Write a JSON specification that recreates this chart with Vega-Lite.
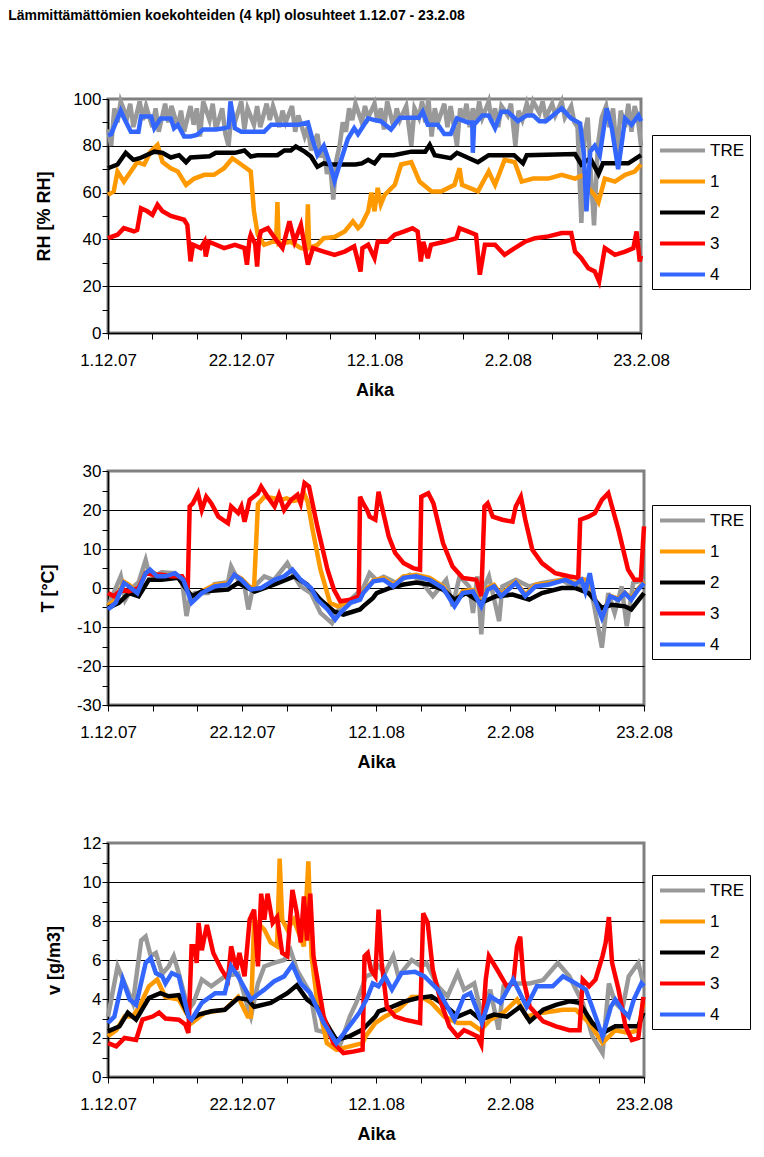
{
  "$schema": "https://vega.github.io/schema/vega-lite/v6.json",
  "padding": {"left": 8, "top": 8, "right": 0, "bottom": 5},
  "title": {"text": "Lämmittämättömien koekohteiden (4 kpl) olosuhteet 1.12.07 - 23.2.08", "anchor": "start", "frame": "bounds", "dx": -26, "offset": 66, "font": "Liberation Sans", "fontSize": 14, "fontWeight": "bold", "color": "#000000"},
  "config": {
    "font": "Liberation Sans",
    "view": {"stroke": "#808080", "strokeWidth": 3},
    "axis": {"domainColor": "#000000", "domainWidth": 1.5, "tickColor": "#000000", "tickSize": 6, "tickWidth": 1, "labelFontSize": 17, "labelColor": "#000000", "labelFont": "Liberation Sans", "titleFont": "Liberation Sans", "titleFontSize": 18, "titleFontWeight": "bold", "titleColor": "#000000", "labelFlush": false, "labelOverlap": false, "gridColor": "#000000", "gridWidth": 1},
    "legend": {"title": null, "orient": "none", "strokeColor": "#000000", "fillColor": "#ffffff", "padding": 6, "symbolType": "M-1,0H5", "symbolStrokeWidth": 4, "symbolSize": 225, "labelFontSize": 17, "labelFont": "Liberation Sans", "labelColor": "#000000", "rowPadding": 13, "labelOffset": 33}
  },
  "spacing": 59,
  "resolve": {"scale": {"color": "independent"}},
  "datasets": {
    "rh": [
      {"s":"TRE","d":0,"v":87},{"s":"TRE","d":0.5,"v":80},{"s":"TRE","d":1,"v":96},{"s":"TRE","d":1.5,"v":90},{"s":"TRE","d":2,"v":99},{"s":"TRE","d":3,"v":92},{"s":"TRE","d":3.5,"v":98},{"s":"TRE","d":4,"v":88},{"s":"TRE","d":5,"v":99},{"s":"TRE","d":5.5,"v":91},{"s":"TRE","d":6,"v":97},{"s":"TRE","d":7,"v":88},{"s":"TRE","d":7.5,"v":96},{"s":"TRE","d":8,"v":86},{"s":"TRE","d":9,"v":98},{"s":"TRE","d":9.5,"v":90},{"s":"TRE","d":10,"v":97},{"s":"TRE","d":11,"v":88},{"s":"TRE","d":11.5,"v":95},{"s":"TRE","d":12,"v":86},{"s":"TRE","d":13,"v":97},{"s":"TRE","d":13.5,"v":89},{"s":"TRE","d":14,"v":96},{"s":"TRE","d":14.5,"v":84},{"s":"TRE","d":15,"v":99},{"s":"TRE","d":16,"v":91},{"s":"TRE","d":16.5,"v":98},{"s":"TRE","d":17,"v":87},{"s":"TRE","d":18,"v":96},{"s":"TRE","d":18.5,"v":85},{"s":"TRE","d":19,"v":80},{"s":"TRE","d":19.5,"v":95},{"s":"TRE","d":20,"v":90},{"s":"TRE","d":21,"v":99},{"s":"TRE","d":21.5,"v":87},{"s":"TRE","d":22,"v":96},{"s":"TRE","d":23,"v":89},{"s":"TRE","d":23.5,"v":97},{"s":"TRE","d":24,"v":88},{"s":"TRE","d":25,"v":98},{"s":"TRE","d":25.5,"v":91},{"s":"TRE","d":26,"v":97},{"s":"TRE","d":27,"v":88},{"s":"TRE","d":27.5,"v":95},{"s":"TRE","d":28,"v":90},{"s":"TRE","d":29,"v":97},{"s":"TRE","d":29.5,"v":86},{"s":"TRE","d":30,"v":93},{"s":"TRE","d":31,"v":84},{"s":"TRE","d":31.5,"v":88},{"s":"TRE","d":32,"v":78},{"s":"TRE","d":33,"v":85},{"s":"TRE","d":33.5,"v":75},{"s":"TRE","d":34,"v":80},{"s":"TRE","d":34.5,"v":68},{"s":"TRE","d":35,"v":72},{"s":"TRE","d":35.5,"v":57},{"s":"TRE","d":36,"v":74},{"s":"TRE","d":36.5,"v":80},{"s":"TRE","d":37,"v":90},{"s":"TRE","d":37.5,"v":86},{"s":"TRE","d":38,"v":96},{"s":"TRE","d":38.5,"v":91},{"s":"TRE","d":39,"v":98},{"s":"TRE","d":40,"v":90},{"s":"TRE","d":40.5,"v":97},{"s":"TRE","d":41,"v":92},{"s":"TRE","d":42,"v":98},{"s":"TRE","d":42.5,"v":90},{"s":"TRE","d":43,"v":96},{"s":"TRE","d":43.5,"v":87},{"s":"TRE","d":44,"v":99},{"s":"TRE","d":45,"v":88},{"s":"TRE","d":45.5,"v":96},{"s":"TRE","d":46,"v":91},{"s":"TRE","d":47,"v":97},{"s":"TRE","d":47.8,"v":80},{"s":"TRE","d":48.3,"v":96},{"s":"TRE","d":49,"v":92},{"s":"TRE","d":49.5,"v":99},{"s":"TRE","d":50,"v":90},{"s":"TRE","d":50.5,"v":100},{"s":"TRE","d":51,"v":84},{"s":"TRE","d":51.5,"v":96},{"s":"TRE","d":52,"v":90},{"s":"TRE","d":53,"v":98},{"s":"TRE","d":53.5,"v":88},{"s":"TRE","d":54,"v":97},{"s":"TRE","d":55,"v":80},{"s":"TRE","d":55.5,"v":96},{"s":"TRE","d":56,"v":91},{"s":"TRE","d":56.5,"v":98},{"s":"TRE","d":57,"v":88},{"s":"TRE","d":57.5,"v":96},{"s":"TRE","d":58,"v":90},{"s":"TRE","d":58.5,"v":99},{"s":"TRE","d":59,"v":92},{"s":"TRE","d":60,"v":99},{"s":"TRE","d":60.5,"v":90},{"s":"TRE","d":61,"v":96},{"s":"TRE","d":61.5,"v":88},{"s":"TRE","d":62,"v":97},{"s":"TRE","d":63,"v":93},{"s":"TRE","d":63.5,"v":98},{"s":"TRE","d":64.2,"v":80},{"s":"TRE","d":64.7,"v":95},{"s":"TRE","d":65.3,"v":91},{"s":"TRE","d":66,"v":98},{"s":"TRE","d":66.5,"v":93},{"s":"TRE","d":67,"v":99},{"s":"TRE","d":68,"v":94},{"s":"TRE","d":68.5,"v":99},{"s":"TRE","d":69,"v":92},{"s":"TRE","d":70,"v":98},{"s":"TRE","d":70.5,"v":93},{"s":"TRE","d":71.5,"v":99},{"s":"TRE","d":72,"v":92},{"s":"TRE","d":73,"v":97},{"s":"TRE","d":73.5,"v":90},{"s":"TRE","d":74,"v":88},{"s":"TRE","d":74.6,"v":47},{"s":"TRE","d":75.1,"v":85},{"s":"TRE","d":75.6,"v":92},{"s":"TRE","d":76,"v":72},{"s":"TRE","d":76.6,"v":46},{"s":"TRE","d":77.2,"v":80},{"s":"TRE","d":77.8,"v":92},{"s":"TRE","d":78.5,"v":97},{"s":"TRE","d":79,"v":88},{"s":"TRE","d":79.6,"v":96},{"s":"TRE","d":80.2,"v":76},{"s":"TRE","d":80.8,"v":95},{"s":"TRE","d":81.5,"v":88},{"s":"TRE","d":82,"v":98},{"s":"TRE","d":82.5,"v":86},{"s":"TRE","d":83,"v":97},{"s":"TRE","d":83.5,"v":92},{"s":"TRE","d":84,"v":80},
      {"s":"1","d":0,"v":59},{"s":"1","d":0.9,"v":60.5},{"s":"1","d":1.5,"v":69},{"s":"1","d":2.5,"v":64.7},{"s":"1","d":3.6,"v":69},{"s":"1","d":4.6,"v":73},{"s":"1","d":5.7,"v":72},{"s":"1","d":6.7,"v":77.5},{"s":"1","d":7.8,"v":80.4},{"s":"1","d":8.6,"v":73},{"s":"1","d":9.9,"v":70.4},{"s":"1","d":11,"v":69},{"s":"1","d":12.3,"v":63.3},{"s":"1","d":13.6,"v":66},{"s":"1","d":15.2,"v":67.6},{"s":"1","d":16.7,"v":67.6},{"s":"1","d":18.3,"v":70.4},{"s":"1","d":19.6,"v":74.7},{"s":"1","d":21,"v":72},{"s":"1","d":22.5,"v":69},{"s":"1","d":23,"v":52},{"s":"1","d":23.6,"v":42},{"s":"1","d":24.6,"v":37.7},{"s":"1","d":26,"v":39},{"s":"1","d":26.5,"v":39},{"s":"1","d":26.7,"v":56},{"s":"1","d":26.9,"v":38},{"s":"1","d":28.8,"v":39},{"s":"1","d":30.4,"v":36.3},{"s":"1","d":31.3,"v":36},{"s":"1","d":31.5,"v":55},{"s":"1","d":31.7,"v":36.3},{"s":"1","d":33,"v":37.7},{"s":"1","d":34,"v":40.5},{"s":"1","d":35.7,"v":41},{"s":"1","d":37.3,"v":43.4},{"s":"1","d":38.6,"v":47.7},{"s":"1","d":39.4,"v":44.8},{"s":"1","d":39.9,"v":46},{"s":"1","d":41,"v":52},{"s":"1","d":41.5,"v":60},{"s":"1","d":42,"v":52},{"s":"1","d":42.5,"v":62},{"s":"1","d":43,"v":55},{"s":"1","d":43.6,"v":59},{"s":"1","d":45.2,"v":63.3},{"s":"1","d":46.2,"v":72},{"s":"1","d":47.8,"v":73},{"s":"1","d":49.1,"v":64.7},{"s":"1","d":51,"v":60.5},{"s":"1","d":52.5,"v":60.5},{"s":"1","d":54.6,"v":63.3},{"s":"1","d":55.4,"v":70.4},{"s":"1","d":55.8,"v":63.3},{"s":"1","d":58.3,"v":60.5},{"s":"1","d":60,"v":69},{"s":"1","d":61,"v":63.3},{"s":"1","d":62.5,"v":74},{"s":"1","d":64.1,"v":73},{"s":"1","d":65.2,"v":64.7},{"s":"1","d":67,"v":66},{"s":"1","d":69.4,"v":66},{"s":"1","d":71.5,"v":67.6},{"s":"1","d":73.6,"v":66},{"s":"1","d":75,"v":67.6},{"s":"1","d":75.7,"v":62},{"s":"1","d":76.7,"v":59},{"s":"1","d":77.3,"v":56},{"s":"1","d":78.3,"v":66},{"s":"1","d":79.9,"v":64.7},{"s":"1","d":81.5,"v":67.6},{"s":"1","d":83,"v":69},{"s":"1","d":84,"v":72},
      {"s":"2","d":0,"v":70.4},{"s":"2","d":1.5,"v":72},{"s":"2","d":2.8,"v":77},{"s":"2","d":4,"v":74},{"s":"2","d":5,"v":74.7},{"s":"2","d":7.3,"v":77.5},{"s":"2","d":8.6,"v":77},{"s":"2","d":9.9,"v":75},{"s":"2","d":11.2,"v":76},{"s":"2","d":12.3,"v":73},{"s":"2","d":13,"v":75},{"s":"2","d":16,"v":75.5},{"s":"2","d":17,"v":77},{"s":"2","d":20,"v":77},{"s":"2","d":21.5,"v":78},{"s":"2","d":22.5,"v":75.4},{"s":"2","d":23.6,"v":76},{"s":"2","d":26.7,"v":76},{"s":"2","d":27.8,"v":78},{"s":"2","d":28.8,"v":78},{"s":"2","d":29.6,"v":79.7},{"s":"2","d":31,"v":77.5},{"s":"2","d":32,"v":75.4},{"s":"2","d":33,"v":71},{"s":"2","d":34,"v":72.5},{"s":"2","d":35,"v":72},{"s":"2","d":39,"v":72},{"s":"2","d":40,"v":72.5},{"s":"2","d":41,"v":74},{"s":"2","d":42,"v":72.5},{"s":"2","d":43,"v":76},{"s":"2","d":45,"v":76},{"s":"2","d":47.8,"v":77.5},{"s":"2","d":50,"v":77.5},{"s":"2","d":50.7,"v":80.4},{"s":"2","d":51.5,"v":76},{"s":"2","d":54,"v":74.7},{"s":"2","d":55,"v":77},{"s":"2","d":58.3,"v":73},{"s":"2","d":60,"v":76},{"s":"2","d":64,"v":76},{"s":"2","d":65.4,"v":72.5},{"s":"2","d":66,"v":76},{"s":"2","d":73.6,"v":76.5},{"s":"2","d":74.6,"v":72},{"s":"2","d":76,"v":74.7},{"s":"2","d":77.3,"v":68},{"s":"2","d":78,"v":72.5},{"s":"2","d":82,"v":72.5},{"s":"2","d":84,"v":76},
      {"s":"3","d":0,"v":40.5},{"s":"3","d":1.5,"v":42},{"s":"3","d":2.5,"v":44.8},{"s":"3","d":4.1,"v":43.4},{"s":"3","d":4.6,"v":44},{"s":"3","d":5.2,"v":53.3},{"s":"3","d":6.2,"v":52},{"s":"3","d":7,"v":50.5},{"s":"3","d":7.8,"v":54.8},{"s":"3","d":8.6,"v":52},{"s":"3","d":9.9,"v":50},{"s":"3","d":12,"v":48.4},{"s":"3","d":12.5,"v":46.2},{"s":"3","d":13,"v":30.6},{"s":"3","d":13.4,"v":37.7},{"s":"3","d":14.6,"v":36.3},{"s":"3","d":15.2,"v":39},{"s":"3","d":15.4,"v":32.7},{"s":"3","d":15.9,"v":39},{"s":"3","d":18.3,"v":36.3},{"s":"3","d":20,"v":37.7},{"s":"3","d":21.5,"v":36.3},{"s":"3","d":21.9,"v":29.2},{"s":"3","d":22.3,"v":40},{"s":"3","d":22.5,"v":42},{"s":"3","d":23.2,"v":38},{"s":"3","d":23.5,"v":28.4},{"s":"3","d":23.8,"v":40},{"s":"3","d":24.1,"v":43.4},{"s":"3","d":25.2,"v":44.8},{"s":"3","d":26.7,"v":39},{"s":"3","d":27.5,"v":36.3},{"s":"3","d":28.6,"v":47.7},{"s":"3","d":29.4,"v":39},{"s":"3","d":30.4,"v":46.2},{"s":"3","d":31.5,"v":29.2},{"s":"3","d":32.3,"v":36.3},{"s":"3","d":34,"v":34.8},{"s":"3","d":35.7,"v":33.4},{"s":"3","d":37.3,"v":34.8},{"s":"3","d":38.8,"v":37},{"s":"3","d":39.8,"v":26.3},{"s":"3","d":40.1,"v":36.3},{"s":"3","d":41,"v":37.7},{"s":"3","d":42,"v":32},{"s":"3","d":42.5,"v":39},{"s":"3","d":44,"v":39},{"s":"3","d":45.2,"v":42},{"s":"3","d":46.7,"v":43.4},{"s":"3","d":48,"v":44.8},{"s":"3","d":48.8,"v":43.4},{"s":"3","d":49.3,"v":30.6},{"s":"3","d":49.7,"v":39},{"s":"3","d":50.4,"v":32},{"s":"3","d":50.9,"v":37.7},{"s":"3","d":53,"v":39},{"s":"3","d":54.9,"v":40.5},{"s":"3","d":55.4,"v":44.8},{"s":"3","d":56.7,"v":43.4},{"s":"3","d":58,"v":42},{"s":"3","d":58.6,"v":24.9},{"s":"3","d":59.4,"v":37.7},{"s":"3","d":61,"v":37.7},{"s":"3","d":62.5,"v":33.4},{"s":"3","d":64.1,"v":36.3},{"s":"3","d":65.7,"v":39},{"s":"3","d":67.3,"v":40.5},{"s":"3","d":69.4,"v":41.3},{"s":"3","d":71.5,"v":42.7},{"s":"3","d":73,"v":42.7},{"s":"3","d":73.6,"v":34.8},{"s":"3","d":74.6,"v":32},{"s":"3","d":75.7,"v":27.7},{"s":"3","d":76.7,"v":26.3},{"s":"3","d":77.4,"v":22},{"s":"3","d":78.3,"v":36.3},{"s":"3","d":79.9,"v":33.4},{"s":"3","d":81.5,"v":34.8},{"s":"3","d":82.8,"v":36.3},{"s":"3","d":83.3,"v":43.4},{"s":"3","d":83.8,"v":30.6},{"s":"3","d":84,"v":33},
      {"s":"4","d":0,"v":84.6},{"s":"4","d":0.5,"v":85},{"s":"4","d":2,"v":95},{"s":"4","d":2.5,"v":92},{"s":"4","d":3.6,"v":86},{"s":"4","d":4.8,"v":86},{"s":"4","d":5.2,"v":92.5},{"s":"4","d":6.8,"v":92.5},{"s":"4","d":7.3,"v":87.5},{"s":"4","d":8.3,"v":91.7},{"s":"4","d":9.9,"v":91.7},{"s":"4","d":10.4,"v":87.5},{"s":"4","d":11,"v":89},{"s":"4","d":12,"v":84},{"s":"4","d":13,"v":84},{"s":"4","d":14,"v":84.6},{"s":"4","d":15,"v":87},{"s":"4","d":17,"v":87},{"s":"4","d":18.3,"v":87.5},{"s":"4","d":19,"v":88},{"s":"4","d":19.3,"v":99},{"s":"4","d":20,"v":87.5},{"s":"4","d":21,"v":86},{"s":"4","d":24.6,"v":86},{"s":"4","d":25.7,"v":89},{"s":"4","d":28.8,"v":89},{"s":"4","d":30,"v":89},{"s":"4","d":31.5,"v":90},{"s":"4","d":32.3,"v":82},{"s":"4","d":33,"v":76},{"s":"4","d":34,"v":80},{"s":"4","d":35,"v":72},{"s":"4","d":35.7,"v":65},{"s":"4","d":36.5,"v":72},{"s":"4","d":37.8,"v":83},{"s":"4","d":38.8,"v":87.5},{"s":"4","d":39.4,"v":85},{"s":"4","d":41,"v":91.7},{"s":"4","d":42,"v":91},{"s":"4","d":43,"v":90.5},{"s":"4","d":44.6,"v":87},{"s":"4","d":46,"v":92},{"s":"4","d":49,"v":92},{"s":"4","d":49.6,"v":94.6},{"s":"4","d":50.4,"v":89},{"s":"4","d":52,"v":89},{"s":"4","d":53,"v":85},{"s":"4","d":54,"v":85},{"s":"4","d":55,"v":91.7},{"s":"4","d":56.7,"v":90},{"s":"4","d":57.4,"v":90},{"s":"4","d":57.5,"v":77},{"s":"4","d":57.7,"v":89},{"s":"4","d":59,"v":93},{"s":"4","d":60,"v":93},{"s":"4","d":61,"v":87.5},{"s":"4","d":62,"v":94.6},{"s":"4","d":63,"v":94.6},{"s":"4","d":64.6,"v":90.5},{"s":"4","d":66,"v":93},{"s":"4","d":67,"v":93},{"s":"4","d":68,"v":90.5},{"s":"4","d":69,"v":90.5},{"s":"4","d":71.5,"v":96},{"s":"4","d":73,"v":91.7},{"s":"4","d":74.4,"v":89.6},{"s":"4","d":75,"v":76},{"s":"4","d":75.4,"v":52},{"s":"4","d":76,"v":77.5},{"s":"4","d":76.7,"v":80},{"s":"4","d":77.5,"v":76},{"s":"4","d":78.6,"v":96},{"s":"4","d":79.4,"v":87.5},{"s":"4","d":80.4,"v":70},{"s":"4","d":81.5,"v":91.7},{"s":"4","d":82.5,"v":89},{"s":"4","d":83.6,"v":93},{"s":"4","d":84,"v":90.5}
    ],
    "t": [
      {"s":"TRE","d":0,"v":-4.7},{"s":"TRE","d":2,"v":3},{"s":"TRE","d":2.7,"v":-3},{"s":"TRE","d":3.8,"v":0},{"s":"TRE","d":4.8,"v":1.5},{"s":"TRE","d":5.9,"v":7.2},{"s":"TRE","d":6.4,"v":4},{"s":"TRE","d":7.2,"v":3},{"s":"TRE","d":8.4,"v":4},{"s":"TRE","d":10.5,"v":3.8},{"s":"TRE","d":11.6,"v":2},{"s":"TRE","d":12.3,"v":-7.2},{"s":"TRE","d":12.9,"v":-2},{"s":"TRE","d":13.6,"v":-1.3},{"s":"TRE","d":15.7,"v":-1.3},{"s":"TRE","d":16.7,"v":1},{"s":"TRE","d":18.8,"v":1.5},{"s":"TRE","d":19.3,"v":5.5},{"s":"TRE","d":20.4,"v":2},{"s":"TRE","d":21.4,"v":0.4},{"s":"TRE","d":22,"v":-5.5},{"s":"TRE","d":22.7,"v":0},{"s":"TRE","d":24.5,"v":3},{"s":"TRE","d":26,"v":2},{"s":"TRE","d":28.1,"v":6.4},{"s":"TRE","d":29.2,"v":3},{"s":"TRE","d":30.2,"v":0.4},{"s":"TRE","d":31.8,"v":-1.3},{"s":"TRE","d":33.3,"v":-6.4},{"s":"TRE","d":35.1,"v":-9},{"s":"TRE","d":36.4,"v":-4.7},{"s":"TRE","d":38,"v":-3},{"s":"TRE","d":40,"v":0},{"s":"TRE","d":41,"v":3.8},{"s":"TRE","d":42.1,"v":2},{"s":"TRE","d":43.2,"v":2.9},{"s":"TRE","d":45.2,"v":1.3},{"s":"TRE","d":47.3,"v":3.4},{"s":"TRE","d":48.9,"v":2.1},{"s":"TRE","d":50.9,"v":-2.1},{"s":"TRE","d":53,"v":2.1},{"s":"TRE","d":54,"v":-4.7},{"s":"TRE","d":55.1,"v":3},{"s":"TRE","d":56.6,"v":0.4},{"s":"TRE","d":57.2,"v":-6.4},{"s":"TRE","d":57.9,"v":3},{"s":"TRE","d":58.5,"v":-11.9},{"s":"TRE","d":59,"v":0.4},{"s":"TRE","d":59.7,"v":3},{"s":"TRE","d":61.3,"v":-8.5},{"s":"TRE","d":61.8,"v":0.4},{"s":"TRE","d":63.9,"v":2.1},{"s":"TRE","d":66,"v":0.4},{"s":"TRE","d":68,"v":1.3},{"s":"TRE","d":71.1,"v":2.1},{"s":"TRE","d":73.2,"v":0},{"s":"TRE","d":75.3,"v":1.3},{"s":"TRE","d":76.1,"v":-3.8},{"s":"TRE","d":77.4,"v":-15.3},{"s":"TRE","d":78.4,"v":-1.3},{"s":"TRE","d":79.4,"v":-6.4},{"s":"TRE","d":80.5,"v":0.4},{"s":"TRE","d":81.3,"v":-9.8},{"s":"TRE","d":82.3,"v":1.3},{"s":"TRE","d":84,"v":2.1},
      {"s":"1","d":0,"v":-4.5},{"s":"1","d":1.2,"v":-3},{"s":"1","d":2.5,"v":1.6},{"s":"1","d":3.3,"v":0.8},{"s":"1","d":4.6,"v":-1},{"s":"1","d":5.9,"v":4},{"s":"1","d":6.6,"v":4.5},{"s":"1","d":7.7,"v":3.3},{"s":"1","d":9,"v":3.3},{"s":"1","d":10.5,"v":3.5},{"s":"1","d":11.8,"v":2.4},{"s":"1","d":13.1,"v":-3},{"s":"1","d":14.7,"v":-0.8},{"s":"1","d":16.7,"v":0.8},{"s":"1","d":18.8,"v":1.2},{"s":"1","d":19.8,"v":3.4},{"s":"1","d":20.9,"v":2.4},{"s":"1","d":22.4,"v":0},{"s":"1","d":22.9,"v":0.5},{"s":"1","d":23.5,"v":21.5},{"s":"1","d":24.5,"v":23.4},{"s":"1","d":26,"v":23},{"s":"1","d":27,"v":22.6},{"s":"1","d":28,"v":23},{"s":"1","d":29,"v":22.3},{"s":"1","d":30,"v":22.6},{"s":"1","d":30.8,"v":24},{"s":"1","d":31.3,"v":22},{"s":"1","d":32,"v":15.5},{"s":"1","d":33.3,"v":4.7},{"s":"1","d":34.8,"v":-3.8},{"s":"1","d":36,"v":-4.7},{"s":"1","d":37.5,"v":-3.6},{"s":"1","d":39.5,"v":-2.6},{"s":"1","d":40,"v":-1},{"s":"1","d":41.6,"v":2},{"s":"1","d":43.2,"v":2.5},{"s":"1","d":44.7,"v":0.8},{"s":"1","d":46.3,"v":3},{"s":"1","d":48.3,"v":3.4},{"s":"1","d":50.4,"v":2.6},{"s":"1","d":52.5,"v":0.4},{"s":"1","d":54.3,"v":-4},{"s":"1","d":55.6,"v":-0.8},{"s":"1","d":57.2,"v":-0.5},{"s":"1","d":58.5,"v":-4.2},{"s":"1","d":59.5,"v":0},{"s":"1","d":60.5,"v":0.8},{"s":"1","d":61.6,"v":-1.7},{"s":"1","d":63.9,"v":1.6},{"s":"1","d":65.4,"v":-1.7},{"s":"1","d":67,"v":0.8},{"s":"1","d":69.1,"v":1.2},{"s":"1","d":71.7,"v":2.4},{"s":"1","d":73.2,"v":1.2},{"s":"1","d":74.2,"v":2.3},{"s":"1","d":75.5,"v":2},{"s":"1","d":76.3,"v":-2.7},{"s":"1","d":77.4,"v":-7.2},{"s":"1","d":78.7,"v":-2},{"s":"1","d":80,"v":-2.8},{"s":"1","d":81,"v":-1.2},{"s":"1","d":82,"v":-2.6},{"s":"1","d":83.1,"v":-0.2},{"s":"1","d":84,"v":1.6},
      {"s":"2","d":0,"v":-5.1},{"s":"2","d":1.7,"v":-3.8},{"s":"2","d":3.3,"v":-1.3},{"s":"2","d":4.8,"v":-2.1},{"s":"2","d":6.4,"v":2.1},{"s":"2","d":8.4,"v":2.1},{"s":"2","d":11,"v":2.6},{"s":"2","d":13.1,"v":-2.1},{"s":"2","d":14.7,"v":-0.9},{"s":"2","d":18.8,"v":-0.4},{"s":"2","d":20.4,"v":1.3},{"s":"2","d":23,"v":-0.9},{"s":"2","d":26.1,"v":0.9},{"s":"2","d":29.2,"v":3},{"s":"2","d":31.2,"v":0.9},{"s":"2","d":33.3,"v":-3},{"s":"2","d":35.4,"v":-6},{"s":"2","d":36.9,"v":-6.8},{"s":"2","d":39.5,"v":-5.5},{"s":"2","d":40,"v":-4.7},{"s":"2","d":41.5,"v":-2.6},{"s":"2","d":42.1,"v":-1.3},{"s":"2","d":44.2,"v":0},{"s":"2","d":46.3,"v":0.9},{"s":"2","d":48.3,"v":1.4},{"s":"2","d":50.4,"v":0.9},{"s":"2","d":52.5,"v":-0.4},{"s":"2","d":54.3,"v":-3},{"s":"2","d":56.1,"v":-1.3},{"s":"2","d":58.5,"v":-3.8},{"s":"2","d":60.8,"v":-2.1},{"s":"2","d":63.4,"v":-1.7},{"s":"2","d":66,"v":-3},{"s":"2","d":68,"v":-1.3},{"s":"2","d":71.1,"v":0},{"s":"2","d":73.2,"v":0},{"s":"2","d":75.3,"v":-1.3},{"s":"2","d":77.4,"v":-5.1},{"s":"2","d":78.9,"v":-4.3},{"s":"2","d":81,"v":-4.7},{"s":"2","d":82,"v":-5.5},{"s":"2","d":84,"v":-1.3},
      {"s":"3","d":0,"v":-1.3},{"s":"3","d":0.9,"v":-2.1},{"s":"3","d":2.2,"v":-0.4},{"s":"3","d":3.3,"v":-0.9},{"s":"3","d":4.8,"v":0},{"s":"3","d":5.9,"v":3.8},{"s":"3","d":7.2,"v":3.4},{"s":"3","d":8.4,"v":3.4},{"s":"3","d":10,"v":3},{"s":"3","d":11.6,"v":3},{"s":"3","d":12.5,"v":0},{"s":"3","d":12.8,"v":20.9},{"s":"3","d":13.3,"v":21.7},{"s":"3","d":14.1,"v":24.3},{"s":"3","d":14.7,"v":20},{"s":"3","d":15.4,"v":23.4},{"s":"3","d":16.2,"v":21.7},{"s":"3","d":17.3,"v":18.3},{"s":"3","d":18.8,"v":16.6},{"s":"3","d":19.3,"v":20.9},{"s":"3","d":20.4,"v":19.2},{"s":"3","d":20.9,"v":20.9},{"s":"3","d":21.4,"v":17},{"s":"3","d":22.2,"v":22.6},{"s":"3","d":23.5,"v":24.3},{"s":"3","d":24,"v":26},{"s":"3","d":25,"v":23.4},{"s":"3","d":26.1,"v":20.9},{"s":"3","d":26.8,"v":23.9},{"s":"3","d":27.6,"v":20},{"s":"3","d":28.7,"v":22.6},{"s":"3","d":29.7,"v":23.9},{"s":"3","d":30.2,"v":21.7},{"s":"3","d":30.8,"v":26.9},{"s":"3","d":31.5,"v":26},{"s":"3","d":32.8,"v":15.8},{"s":"3","d":34.4,"v":4.7},{"s":"3","d":35.4,"v":-0.4},{"s":"3","d":36.4,"v":-3.4},{"s":"3","d":38,"v":-3},{"s":"3","d":39.3,"v":-2.1},{"s":"3","d":39.5,"v":23.4},{"s":"3","d":40,"v":21.7},{"s":"3","d":40.6,"v":20},{"s":"3","d":41,"v":18.3},{"s":"3","d":41.9,"v":17.5},{"s":"3","d":42.4,"v":24.7},{"s":"3","d":42.8,"v":21.7},{"s":"3","d":44,"v":13.2},{"s":"3","d":45,"v":9},{"s":"3","d":46.3,"v":6.4},{"s":"3","d":47.8,"v":5.1},{"s":"3","d":48.9,"v":4.7},{"s":"3","d":49.1,"v":23.4},{"s":"3","d":50.2,"v":24.3},{"s":"3","d":51,"v":21.7},{"s":"3","d":52.5,"v":11.5},{"s":"3","d":54,"v":5.5},{"s":"3","d":55.6,"v":2.6},{"s":"3","d":57.7,"v":2.1},{"s":"3","d":58.5,"v":-2.1},{"s":"3","d":59,"v":20.9},{"s":"3","d":59.5,"v":21.7},{"s":"3","d":60.3,"v":18.3},{"s":"3","d":61.8,"v":17.5},{"s":"3","d":63.4,"v":17},{"s":"3","d":63.9,"v":20.9},{"s":"3","d":64.7,"v":23.4},{"s":"3","d":65.4,"v":17.5},{"s":"3","d":66.5,"v":9.8},{"s":"3","d":68,"v":6.4},{"s":"3","d":70.1,"v":3.8},{"s":"3","d":72.2,"v":3},{"s":"3","d":73.7,"v":2.6},{"s":"3","d":74,"v":17.5},{"s":"3","d":75.3,"v":18.3},{"s":"3","d":76.3,"v":19.2},{"s":"3","d":77.4,"v":22.6},{"s":"3","d":78.4,"v":24.3},{"s":"3","d":80,"v":14.9},{"s":"3","d":81.5,"v":4.7},{"s":"3","d":82.5,"v":2.1},{"s":"3","d":83.5,"v":2.1},{"s":"3","d":84,"v":15.8},
      {"s":"4","d":0,"v":-5.5},{"s":"4","d":1.2,"v":-3.8},{"s":"4","d":2.5,"v":1.3},{"s":"4","d":3.3,"v":0.4},{"s":"4","d":4.6,"v":-1.3},{"s":"4","d":5.9,"v":3.8},{"s":"4","d":6.6,"v":4.7},{"s":"4","d":7.7,"v":3},{"s":"4","d":9,"v":3},{"s":"4","d":10.5,"v":3.8},{"s":"4","d":11.8,"v":2.1},{"s":"4","d":13.1,"v":-3.8},{"s":"4","d":14.7,"v":-1.3},{"s":"4","d":16.7,"v":0.4},{"s":"4","d":18.8,"v":0.9},{"s":"4","d":19.8,"v":3.4},{"s":"4","d":20.9,"v":2.1},{"s":"4","d":22.4,"v":-0.4},{"s":"4","d":24,"v":0},{"s":"4","d":26.1,"v":2.1},{"s":"4","d":27.6,"v":3},{"s":"4","d":28.9,"v":4.7},{"s":"4","d":30.2,"v":2.1},{"s":"4","d":31.8,"v":0},{"s":"4","d":32.8,"v":-3},{"s":"4","d":34.4,"v":-5.5},{"s":"4","d":35.6,"v":-8.1},{"s":"4","d":36.4,"v":-6.4},{"s":"4","d":38,"v":-3.8},{"s":"4","d":39.5,"v":-3},{"s":"4","d":40,"v":-1.3},{"s":"4","d":41.6,"v":1.7},{"s":"4","d":43.2,"v":2.1},{"s":"4","d":44.7,"v":0.4},{"s":"4","d":46.3,"v":2.6},{"s":"4","d":48.3,"v":3},{"s":"4","d":50.4,"v":2.1},{"s":"4","d":52.5,"v":0},{"s":"4","d":54.3,"v":-4.7},{"s":"4","d":55.6,"v":-1.3},{"s":"4","d":57.2,"v":-0.9},{"s":"4","d":58.5,"v":-4.7},{"s":"4","d":59.5,"v":-0.4},{"s":"4","d":60.5,"v":0.4},{"s":"4","d":61.6,"v":-2.1},{"s":"4","d":63.9,"v":1.3},{"s":"4","d":65.4,"v":-2.1},{"s":"4","d":67,"v":0.4},{"s":"4","d":69.1,"v":0.9},{"s":"4","d":71.7,"v":2.1},{"s":"4","d":73.2,"v":0.9},{"s":"4","d":74.2,"v":2.1},{"s":"4","d":74.8,"v":-0.9},{"s":"4","d":75.5,"v":3.8},{"s":"4","d":76.3,"v":-3},{"s":"4","d":77.4,"v":-7.7},{"s":"4","d":78.7,"v":-2.1},{"s":"4","d":80,"v":-3},{"s":"4","d":81,"v":-1.3},{"s":"4","d":82,"v":-3},{"s":"4","d":83.1,"v":-0.4},{"s":"4","d":84,"v":1.3}
    ],
    "vd": [
      {"s":"TRE","d":0,"v":3.1},{"s":"TRE","d":1.5,"v":5.67},{"s":"TRE","d":2.6,"v":4.8},{"s":"TRE","d":3.9,"v":3.8},{"s":"TRE","d":5.2,"v":7},{"s":"TRE","d":5.9,"v":7.2},{"s":"TRE","d":6.7,"v":6.2},{"s":"TRE","d":7.5,"v":6.36},{"s":"TRE","d":8.5,"v":5.3},{"s":"TRE","d":9.5,"v":5.67},{"s":"TRE","d":10.3,"v":6.2},{"s":"TRE","d":11.1,"v":5.3},{"s":"TRE","d":12.6,"v":3.45},{"s":"TRE","d":13.4,"v":3.8},{"s":"TRE","d":14.7,"v":5},{"s":"TRE","d":16.2,"v":4.65},{"s":"TRE","d":18.3,"v":5.16},{"s":"TRE","d":20.4,"v":5.3},{"s":"TRE","d":21.9,"v":3.6},{"s":"TRE","d":22.4,"v":3.1},{"s":"TRE","d":23.5,"v":4.8},{"s":"TRE","d":24.5,"v":5.67},{"s":"TRE","d":26,"v":5.85},{"s":"TRE","d":27.6,"v":6},{"s":"TRE","d":28.6,"v":6.5},{"s":"TRE","d":29.6,"v":5.5},{"s":"TRE","d":31.7,"v":4.3},{"s":"TRE","d":32.7,"v":2.4},{"s":"TRE","d":34.3,"v":2.26},{"s":"TRE","d":36.3,"v":1.57},{"s":"TRE","d":37.9,"v":3.1},{"s":"TRE","d":38.9,"v":3.8},{"s":"TRE","d":39.9,"v":4.65},{"s":"TRE","d":40.4,"v":5.16},{"s":"TRE","d":41.5,"v":5.3},{"s":"TRE","d":41.9,"v":5.85},{"s":"TRE","d":43.4,"v":5.33},{"s":"TRE","d":44.7,"v":6.2},{"s":"TRE","d":45.5,"v":5.16},{"s":"TRE","d":47.6,"v":6},{"s":"TRE","d":49.1,"v":5.67},{"s":"TRE","d":49.9,"v":5.85},{"s":"TRE","d":51.7,"v":4.65},{"s":"TRE","d":53.2,"v":4.14},{"s":"TRE","d":54.8,"v":5.33},{"s":"TRE","d":55.8,"v":4.48},{"s":"TRE","d":57.4,"v":4.8},{"s":"TRE","d":58.6,"v":3.1},{"s":"TRE","d":59.9,"v":4.48},{"s":"TRE","d":61.2,"v":2.43},{"s":"TRE","d":62,"v":4.65},{"s":"TRE","d":63.5,"v":4.8},{"s":"TRE","d":66.1,"v":4.8},{"s":"TRE","d":68.2,"v":4.97},{"s":"TRE","d":70.5,"v":5.85},{"s":"TRE","d":72.3,"v":5.16},{"s":"TRE","d":74.4,"v":3.8},{"s":"TRE","d":75.9,"v":2.08},{"s":"TRE","d":77.5,"v":1.23},{"s":"TRE","d":78.5,"v":4.8},{"s":"TRE","d":79.5,"v":3.8},{"s":"TRE","d":80.6,"v":3.45},{"s":"TRE","d":81.6,"v":5.16},{"s":"TRE","d":83.1,"v":5.85},{"s":"TRE","d":83.9,"v":4.8},
      {"s":"1","d":0,"v":2.1},{"s":"1","d":1.3,"v":2.4},{"s":"1","d":2.6,"v":3.1},{"s":"1","d":3.9,"v":3.1},{"s":"1","d":4.9,"v":3.6},{"s":"1","d":6.4,"v":4.65},{"s":"1","d":7.7,"v":5},{"s":"1","d":9,"v":4.1},{"s":"1","d":11.1,"v":3.97},{"s":"1","d":12.6,"v":3.1},{"s":"1","d":13.1,"v":2.77},{"s":"1","d":15.2,"v":3.3},{"s":"1","d":18.3,"v":3.45},{"s":"1","d":20.4,"v":4.1},{"s":"1","d":21.9,"v":3.1},{"s":"1","d":22.4,"v":3.1},{"s":"1","d":22.9,"v":8.07},{"s":"1","d":24.5,"v":7.56},{"s":"1","d":25.5,"v":6.9},{"s":"1","d":26.5,"v":6.7},{"s":"1","d":26.9,"v":11.2},{"s":"1","d":27.3,"v":8.07},{"s":"1","d":28.1,"v":7.56},{"s":"1","d":29.1,"v":8.07},{"s":"1","d":30.7,"v":6.7},{"s":"1","d":31.4,"v":11.06},{"s":"1","d":31.9,"v":6.2},{"s":"1","d":32.7,"v":4.1},{"s":"1","d":34.3,"v":1.74},{"s":"1","d":35.8,"v":1.4},{"s":"1","d":37.9,"v":1.57},{"s":"1","d":39.9,"v":1.74},{"s":"1","d":40.4,"v":2.1},{"s":"1","d":41.9,"v":2.77},{"s":"1","d":43.4,"v":3.1},{"s":"1","d":45.5,"v":3.45},{"s":"1","d":47.6,"v":4.1},{"s":"1","d":49.1,"v":4.1},{"s":"1","d":50.7,"v":3.8},{"s":"1","d":52.7,"v":3.1},{"s":"1","d":54.8,"v":2.77},{"s":"1","d":56.8,"v":2.77},{"s":"1","d":58.4,"v":2.4},{"s":"1","d":59.9,"v":2.94},{"s":"1","d":62,"v":3.3},{"s":"1","d":64.1,"v":3.97},{"s":"1","d":65.6,"v":3.1},{"s":"1","d":68.2,"v":3.3},{"s":"1","d":71.3,"v":3.45},{"s":"1","d":73.3,"v":3.45},{"s":"1","d":75.4,"v":2.77},{"s":"1","d":77.5,"v":1.74},{"s":"1","d":79.5,"v":2.4},{"s":"1","d":81.6,"v":2.26},{"s":"1","d":83.1,"v":2.4},{"s":"1","d":83.9,"v":3.8},
      {"s":"2","d":0,"v":2.34},{"s":"2","d":1.8,"v":2.6},{"s":"2","d":3.1,"v":3.3},{"s":"2","d":4.4,"v":2.94},{"s":"2","d":6.4,"v":4.05},{"s":"2","d":8.2,"v":4.3},{"s":"2","d":9.5,"v":4.14},{"s":"2","d":11.1,"v":4.2},{"s":"2","d":12.9,"v":2.94},{"s":"2","d":14.2,"v":3.2},{"s":"2","d":16.2,"v":3.37},{"s":"2","d":18.3,"v":3.45},{"s":"2","d":20.4,"v":4.05},{"s":"2","d":21.9,"v":3.97},{"s":"2","d":22.9,"v":3.6},{"s":"2","d":25.5,"v":3.8},{"s":"2","d":28.1,"v":4.3},{"s":"2","d":29.6,"v":4.7},{"s":"2","d":31.2,"v":3.97},{"s":"2","d":32.7,"v":3.6},{"s":"2","d":34.8,"v":2.43},{"s":"2","d":35.8,"v":1.9},{"s":"2","d":37.9,"v":2.1},{"s":"2","d":39.9,"v":2.43},{"s":"2","d":40.4,"v":2.6},{"s":"2","d":41.9,"v":3.1},{"s":"2","d":42.4,"v":3.37},{"s":"2","d":44.5,"v":3.6},{"s":"2","d":46.5,"v":3.88},{"s":"2","d":48.6,"v":4.05},{"s":"2","d":50.7,"v":4.14},{"s":"2","d":52.7,"v":3.7},{"s":"2","d":54.8,"v":3.1},{"s":"2","d":56.8,"v":3.37},{"s":"2","d":58.4,"v":2.94},{"s":"2","d":60.5,"v":3.2},{"s":"2","d":62.5,"v":3.1},{"s":"2","d":64.6,"v":3.6},{"s":"2","d":66.1,"v":2.85},{"s":"2","d":68.2,"v":3.45},{"s":"2","d":70.2,"v":3.7},{"s":"2","d":72.3,"v":3.88},{"s":"2","d":73.9,"v":3.8},{"s":"2","d":75.9,"v":2.77},{"s":"2","d":77.5,"v":2.26},{"s":"2","d":79.5,"v":2.6},{"s":"2","d":81.6,"v":2.6},{"s":"2","d":83.1,"v":2.6},{"s":"2","d":83.9,"v":3.3},
      {"s":"3","d":0,"v":1.74},{"s":"3","d":1.3,"v":1.57},{"s":"3","d":2.6,"v":2},{"s":"3","d":4.4,"v":1.9},{"s":"3","d":5.4,"v":2.94},{"s":"3","d":7,"v":3.1},{"s":"3","d":8,"v":3.3},{"s":"3","d":9,"v":3},{"s":"3","d":11.1,"v":2.94},{"s":"3","d":12.1,"v":2.7},{"s":"3","d":12.6,"v":2.26},{"s":"3","d":13.1,"v":6.7},{"s":"3","d":13.6,"v":6.7},{"s":"3","d":13.9,"v":5.85},{"s":"3","d":14.2,"v":7.9},{"s":"3","d":14.7,"v":6.5},{"s":"3","d":15.5,"v":7.8},{"s":"3","d":16.5,"v":6.36},{"s":"3","d":17.8,"v":5.5},{"s":"3","d":18.8,"v":5},{"s":"3","d":19.3,"v":6.7},{"s":"3","d":20.1,"v":5.5},{"s":"3","d":20.6,"v":6.36},{"s":"3","d":21.4,"v":5.16},{"s":"3","d":22.2,"v":8.07},{"s":"3","d":22.9,"v":8.58},{"s":"3","d":23.5,"v":5.67},{"s":"3","d":24,"v":9.4},{"s":"3","d":24.5,"v":8.07},{"s":"3","d":25,"v":9.4},{"s":"3","d":25.8,"v":7.9},{"s":"3","d":26.5,"v":8.2},{"s":"3","d":27.3,"v":6.36},{"s":"3","d":28.1,"v":6.2},{"s":"3","d":28.9,"v":9.6},{"s":"3","d":29.6,"v":8.4},{"s":"3","d":30.2,"v":6.9},{"s":"3","d":30.7,"v":9.26},{"s":"3","d":31.2,"v":7},{"s":"3","d":31.7,"v":9.4},{"s":"3","d":32.2,"v":6.2},{"s":"3","d":33.8,"v":3.1},{"s":"3","d":35.3,"v":1.74},{"s":"3","d":36.9,"v":1.23},{"s":"3","d":38.4,"v":1.3},{"s":"3","d":39.9,"v":1.4},{"s":"3","d":40.2,"v":6.2},{"s":"3","d":40.7,"v":6.36},{"s":"3","d":41.2,"v":5.5},{"s":"3","d":41.9,"v":5.16},{"s":"3","d":42.4,"v":8.58},{"s":"3","d":42.9,"v":5.85},{"s":"3","d":43.7,"v":3.6},{"s":"3","d":45,"v":3.1},{"s":"3","d":46.5,"v":2.94},{"s":"3","d":48.9,"v":2.77},{"s":"3","d":49.4,"v":8.4},{"s":"3","d":50.1,"v":7.9},{"s":"3","d":50.9,"v":5.5},{"s":"3","d":52.2,"v":3.8},{"s":"3","d":53.5,"v":2.6},{"s":"3","d":54.8,"v":2.08},{"s":"3","d":55.8,"v":2.4},{"s":"3","d":56.8,"v":2.26},{"s":"3","d":57.9,"v":2.08},{"s":"3","d":58.5,"v":1.66},{"s":"3","d":59.2,"v":5},{"s":"3","d":59.7,"v":6.2},{"s":"3","d":61,"v":5.5},{"s":"3","d":62.5,"v":4.65},{"s":"3","d":63.5,"v":4.8},{"s":"3","d":64.1,"v":6.7},{"s":"3","d":64.6,"v":7.2},{"s":"3","d":65.1,"v":5},{"s":"3","d":66.1,"v":3.6},{"s":"3","d":68.2,"v":2.85},{"s":"3","d":70.2,"v":2.6},{"s":"3","d":72.3,"v":2.4},{"s":"3","d":73.9,"v":2.4},{"s":"3","d":74.4,"v":5},{"s":"3","d":75.4,"v":4.65},{"s":"3","d":76.4,"v":5},{"s":"3","d":77.5,"v":6.2},{"s":"3","d":78,"v":6.9},{"s":"3","d":78.5,"v":8.2},{"s":"3","d":79,"v":5.85},{"s":"3","d":80,"v":4.5},{"s":"3","d":81.1,"v":2.6},{"s":"3","d":82.1,"v":1.9},{"s":"3","d":83.1,"v":2},{"s":"3","d":83.9,"v":4.1},
      {"s":"4","d":0,"v":2.77},{"s":"4","d":1,"v":3.1},{"s":"4","d":2.3,"v":5},{"s":"4","d":3.4,"v":3.97},{"s":"4","d":4.4,"v":3.7},{"s":"4","d":5.9,"v":5.85},{"s":"4","d":6.7,"v":6.1},{"s":"4","d":7.5,"v":5.33},{"s":"4","d":8.5,"v":5.16},{"s":"4","d":9,"v":4.8},{"s":"4","d":10,"v":5.33},{"s":"4","d":11.1,"v":5.16},{"s":"4","d":12.6,"v":3.1},{"s":"4","d":13.1,"v":2.94},{"s":"4","d":14.7,"v":3.8},{"s":"4","d":16.8,"v":4.3},{"s":"4","d":18.3,"v":4.3},{"s":"4","d":19.3,"v":5.67},{"s":"4","d":20.4,"v":5.16},{"s":"4","d":22.4,"v":3.97},{"s":"4","d":24.5,"v":4.48},{"s":"4","d":26,"v":4.9},{"s":"4","d":27.6,"v":5.16},{"s":"4","d":28.9,"v":5.76},{"s":"4","d":30.2,"v":4.8},{"s":"4","d":31.7,"v":4.3},{"s":"4","d":33.8,"v":2.77},{"s":"4","d":35.8,"v":1.74},{"s":"4","d":37.4,"v":2.43},{"s":"4","d":39.4,"v":3.3},{"s":"4","d":40.5,"v":3.97},{"s":"4","d":41.5,"v":4.8},{"s":"4","d":42.4,"v":4.65},{"s":"4","d":43.4,"v":5.16},{"s":"4","d":44.5,"v":4.48},{"s":"4","d":46,"v":5.33},{"s":"4","d":48.1,"v":5.4},{"s":"4","d":49.6,"v":5.16},{"s":"4","d":51.7,"v":4.48},{"s":"4","d":53.2,"v":3.6},{"s":"4","d":54.3,"v":2.94},{"s":"4","d":55.8,"v":4.14},{"s":"4","d":56.8,"v":4.3},{"s":"4","d":58.6,"v":2.77},{"s":"4","d":59.9,"v":4.14},{"s":"4","d":61.5,"v":3.8},{"s":"4","d":63.5,"v":5},{"s":"4","d":65.6,"v":3.6},{"s":"4","d":67.2,"v":4.65},{"s":"4","d":69.7,"v":4.65},{"s":"4","d":71.3,"v":5.16},{"s":"4","d":73.3,"v":4.8},{"s":"4","d":74.9,"v":4.48},{"s":"4","d":76.4,"v":3.1},{"s":"4","d":77.5,"v":2.08},{"s":"4","d":78.8,"v":3.6},{"s":"4","d":79.5,"v":3.97},{"s":"4","d":80.6,"v":3.45},{"s":"4","d":81.6,"v":3.1},{"s":"4","d":82.4,"v":3.97},{"s":"4","d":83.6,"v":4.8},{"s":"4","d":84,"v":4.65}
    ]
  },
  "vconcat": [
    {
      "width": 533, "height": 234,
      "data": {"name": "rh"},
      "mark": {"type": "line", "strokeWidth": 4.5},
      "encoding": {
        "x": {"field": "d", "type": "quantitative", "title": "Aika", "scale": {"domain": [0, 84], "nice": false, "zero": false},
          "axis": {"values": [0,7,14,21,28,35,42,49,56,63,70,77,84], "labelExpr": "datum.value % 21 == 0 ? ['1.12.07','22.12.07','12.1.08','2.2.08','23.2.08'][datum.value / 21] : ''", "grid": false, "labelPadding": 13, "titlePadding": 13}},
        "y": {"field": "v", "type": "quantitative", "title": "RH [% RH]", "scale": {"domain": [0, 100], "nice": false},
          "axis": {"values": [0,10,20,30,40,50,60,70,80,90,100], "labelExpr": "datum.value % 20 == 0 ? datum.label : ''", "gridOpacity": {"condition": {"test": "datum.value % 20 == 0 && datum.value > 0 && datum.value < 100", "value": 1}, "value": 0}, "labelPadding": 1, "titlePadding": 19}},
        "color": {"field": "s", "type": "nominal", "scale": {"domain": ["TRE","1","2","3","4"], "range": ["#999999","#FF9900","#000000","#FF0000","#3366FF"]},
          "legend": {"legendX": 544, "legendY": 36}}
      }
    },
    {
      "width": 536, "height": 234,
      "data": {"name": "t"},
      "mark": {"type": "line", "strokeWidth": 4.5},
      "encoding": {
        "x": {"field": "d", "type": "quantitative", "title": "Aika", "scale": {"domain": [0, 84], "nice": false, "zero": false},
          "axis": {"values": [0,7,14,21,28,35,42,49,56,63,70,77,84], "labelExpr": "datum.value % 21 == 0 ? ['1.12.07','22.12.07','12.1.08','2.2.08','23.2.08'][datum.value / 21] : ''", "grid": false, "labelPadding": 13, "titlePadding": 13}},
        "y": {"field": "v", "type": "quantitative", "title": "T [°C]", "scale": {"domain": [-30, 30], "nice": false, "zero": false},
          "axis": {"values": [-30,-25,-20,-15,-10,-5,0,5,10,15,20,25,30], "labelExpr": "datum.value % 10 == 0 ? (datum.value < 0 ? '-' + abs(datum.value) : '' + datum.value) : ''", "gridOpacity": {"condition": {"test": "datum.value % 10 == 0 && datum.value > -30 && datum.value < 30", "value": 1}, "value": 0}, "labelPadding": 1, "titlePadding": 19}},
        "color": {"field": "s", "type": "nominal", "scale": {"domain": ["TRE","1","2","3","4"], "range": ["#999999","#FF9900","#000000","#FF0000","#3366FF"]},
          "legend": {"legendX": 544, "legendY": 34}}
      }
    },
    {
      "width": 536, "height": 234,
      "data": {"name": "vd"},
      "mark": {"type": "line", "strokeWidth": 4.5},
      "encoding": {
        "x": {"field": "d", "type": "quantitative", "title": "Aika", "scale": {"domain": [0, 84], "nice": false, "zero": false},
          "axis": {"values": [0,7,14,21,28,35,42,49,56,63,70,77,84], "labelExpr": "datum.value % 21 == 0 ? ['1.12.07','22.12.07','12.1.08','2.2.08','23.2.08'][datum.value / 21] : ''", "grid": false, "labelPadding": 13, "titlePadding": 13}},
        "y": {"field": "v", "type": "quantitative", "title": "v [g/m3]", "scale": {"domain": [0, 12], "nice": false},
          "axis": {"values": [0,1,2,3,4,5,6,7,8,9,10,11,12], "labelExpr": "datum.value % 2 == 0 ? datum.label : ''", "gridOpacity": {"condition": {"test": "datum.value % 2 == 0 && datum.value > 0 && datum.value < 12", "value": 1}, "value": 0}, "labelPadding": 1, "titlePadding": 19}},
        "color": {"field": "s", "type": "nominal", "scale": {"domain": ["TRE","1","2","3","4"], "range": ["#999999","#FF9900","#000000","#FF0000","#3366FF"]},
          "legend": {"legendX": 544, "legendY": 32}}
      }
    }
  ]
}
